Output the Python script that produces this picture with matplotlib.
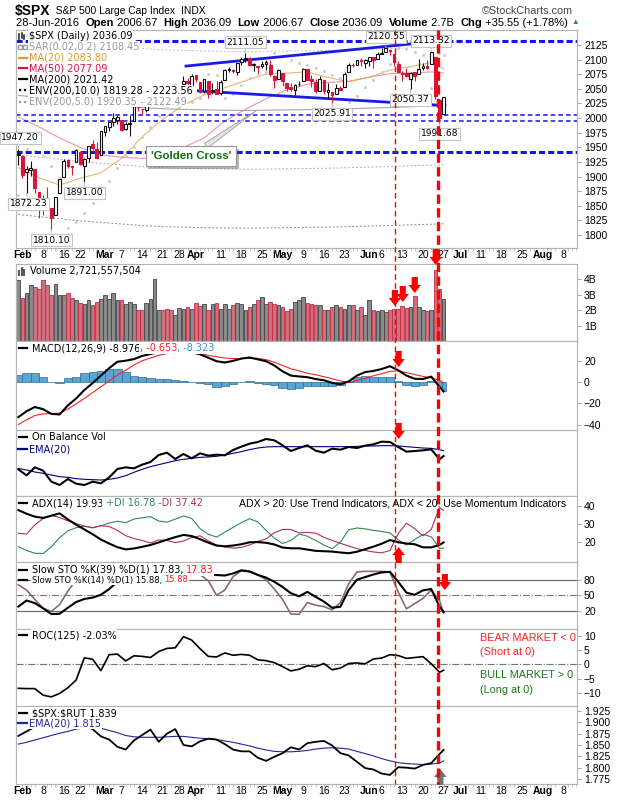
import matplotlib
matplotlib.use('Agg')
import matplotlib.pyplot as plt
import matplotlib.patheffects as pe
import matplotlib.transforms as mtransforms
from matplotlib.patches import Rectangle, Polygon
from matplotlib.lines import Line2D

# ---------------- data ----------------
# trading days Feb 1 2016 .. Jun 28 2016 -> index 0..103
days = list(range(104))

opens = [1936.94, 1935.26, 1907.07, 1911.67, 1913.07, 1873.25, 1848.46, 1857.10, 1847.00, 1833.40,
         1871.44, 1898.80, 1927.57, 1916.74, 1924.44, 1942.38, 1917.56, 1931.87, 1954.95, 1947.13,
         1937.09, 1976.60, 1985.60, 1994.01, 1996.11, 1996.88, 1981.44, 1990.97, 1994.71, 2019.27,
         2015.27, 2014.24, 2026.90, 2041.16, 2047.88, 2048.64, 2048.55, 2032.48, 2037.89, 2035.75,
         2058.27, 2063.77, 2056.62, 2073.19, 2062.50, 2045.56, 2063.01, 2045.54, 2050.23, 2043.72,
         2065.92, 2082.89, 2083.10, 2078.83, 2096.05, 2101.52, 2102.09, 2091.49, 2089.37, 2089.84,
         2092.57, 2090.93, 2071.82, 2067.17, 2077.18, 2060.30, 2052.95, 2047.77, 2057.55, 2062.63,
         2083.29, 2067.17, 2062.50, 2046.53, 2065.04, 2044.38, 2044.21, 2041.88, 2052.23, 2052.65,
         2078.93, 2091.44, 2090.06, 2100.13, 2093.94, 2097.71, 2104.07, 2100.83, 2110.18, 2112.71,
         2115.65, 2109.57, 2091.75, 2076.65, 2077.60, 2066.36, 2078.20, 2075.58, 2085.19, 2089.75,
         2092.80, 2103.81, 2031.45, 2006.67]
highs = [1947.20, 1935.26, 1918.01, 1927.35, 1913.07, 1873.25, 1868.25, 1881.60, 1847.00, 1864.78,
         1895.77, 1930.68, 1930.00, 1918.78, 1946.70, 1942.38, 1932.08, 1951.83, 1962.96, 1958.27,
         1978.35, 1986.51, 1993.69, 2009.13, 2006.12, 1996.88, 1992.69, 2005.08, 2022.37, 2024.57,
         2015.94, 2032.02, 2046.24, 2052.36, 2053.91, 2056.60, 2048.55, 2036.04, 2042.67, 2055.91,
         2072.21, 2067.92, 2075.07, 2074.02, 2062.50, 2067.33, 2063.01, 2060.63, 2062.93, 2065.05,
         2083.18, 2087.84, 2083.22, 2094.66, 2104.05, 2111.05, 2103.78, 2094.32, 2089.37, 2096.87,
         2099.89, 2099.30, 2073.85, 2083.42, 2077.18, 2060.30, 2060.23, 2057.72, 2064.15, 2084.87,
         2083.29, 2073.99, 2066.79, 2071.88, 2065.69, 2060.61, 2044.21, 2058.35, 2055.58, 2079.67,
         2094.73, 2094.30, 2099.06, 2103.48, 2100.97, 2105.26, 2104.07, 2113.36, 2119.22, 2120.55,
         2117.64, 2109.57, 2098.12, 2081.30, 2085.65, 2079.62, 2078.20, 2100.66, 2093.66, 2099.71,
         2113.32, 2103.81, 2031.45, 2036.09]
lows = [1920.03, 1897.29, 1872.23, 1900.52, 1872.65, 1828.46, 1834.94, 1850.32, 1810.10, 1833.40,
        1871.44, 1898.80, 1915.09, 1902.17, 1924.44, 1919.44, 1891.00, 1925.41, 1945.78, 1931.81,
        1937.09, 1968.80, 1977.37, 1986.77, 1989.38, 1977.43, 1979.84, 1969.25, 1994.71, 2012.05,
        2005.23, 2010.04, 2022.16, 2041.16, 2043.14, 2040.57, 2034.86, 2022.49, 2031.96, 2028.31,
        2058.27, 2057.46, 2043.98, 2062.57, 2042.56, 2043.09, 2033.80, 2041.69, 2041.88, 2039.74,
        2065.92, 2078.13, 2076.31, 2073.65, 2091.68, 2096.32, 2088.52, 2081.20, 2077.52, 2085.80,
        2082.31, 2071.62, 2052.28, 2066.11, 2054.89, 2045.55, 2045.77, 2039.45, 2054.31, 2062.63,
        2064.46, 2053.13, 2043.13, 2046.53, 2040.82, 2034.49, 2025.91, 2041.88, 2047.26, 2052.65,
        2078.93, 2087.08, 2090.06, 2088.66, 2085.10, 2088.59, 2085.36, 2100.83, 2110.18, 2112.71,
        2107.73, 2089.96, 2078.46, 2064.10, 2069.80, 2050.37, 2062.84, 2075.58, 2083.02, 2084.36,
        2092.80, 2032.57, 1991.68, 2006.67]
closes = [1939.38, 1903.03, 1912.53, 1915.45, 1880.05, 1853.44, 1852.21, 1851.86, 1829.08, 1864.78,
          1895.58, 1926.82, 1917.83, 1917.78, 1945.50, 1921.27, 1929.80, 1951.70, 1948.05, 1932.23,
          1978.35, 1986.45, 1993.40, 1999.99, 2001.76, 1979.26, 1989.26, 1989.57, 2022.19, 2019.64,
          2015.93, 2027.22, 2040.59, 2049.58, 2051.60, 2049.80, 2036.71, 2035.94, 2037.05, 2055.01,
          2063.95, 2059.74, 2072.78, 2066.13, 2045.17, 2066.66, 2041.91, 2047.60, 2041.99, 2061.72,
          2082.42, 2082.78, 2080.73, 2094.34, 2100.80, 2102.40, 2091.48, 2091.58, 2087.79, 2091.70,
          2095.15, 2075.81, 2065.30, 2081.43, 2063.37, 2051.12, 2050.63, 2057.14, 2058.69, 2084.39,
          2064.46, 2064.11, 2046.61, 2066.66, 2047.21, 2047.63, 2040.04, 2052.32, 2048.04, 2076.06,
          2090.54, 2090.10, 2099.06, 2096.95, 2099.33, 2105.26, 2099.13, 2109.41, 2112.13, 2119.12,
          2115.48, 2096.07, 2079.06, 2075.32, 2071.50, 2077.99, 2071.22, 2083.25, 2088.90, 2085.45,
          2113.32, 2037.41, 2000.54, 2036.09]
volume_b = [3.94, 2.82, 3.14, 3.61, 3.50, 3.40, 3.94, 3.66, 2.97, 3.68,
            2.97, 2.97, 3.14, 2.82, 2.69, 2.50, 2.43, 2.69, 2.32, 2.54,
            2.75, 2.97, 2.75, 3.14, 2.65, 2.65, 2.39, 2.54, 2.43, 2.00,
            2.04, 2.47, 2.72, 4.04, 2.00, 2.00, 2.11, 2.04, 1.68, 2.17,
            2.11, 2.21, 2.11, 2.47, 2.26, 2.43, 2.04, 2.43, 2.50, 2.11,
            2.39, 2.11, 2.32, 2.50, 2.43, 2.00, 2.21, 2.39, 2.69, 2.84,
            2.39, 2.54, 2.43, 2.32, 2.21, 1.98, 2.11, 2.54, 2.69, 2.86,
            2.47, 2.43, 2.32, 2.32, 2.00, 2.04, 2.21, 2.32, 2.21, 2.11,
            2.32, 2.32, 2.04, 2.21, 1.72, 2.65, 2.04, 1.98, 2.00, 1.90,
            2.00, 2.07, 2.07, 2.28, 2.17, 2.24, 2.95, 2.20, 2.04, 1.93,
            2.04, 4.60, 3.40, 2.72]

# overlays, read every 5 sessions
ma_days = list(range(0, 104, 5)) + [103]
ma20 = [1915, 1898, 1885.5, 1897, 1906.5, 1931, 1968, 1998, 2022, 2040, 2052,
        2064, 2075.5, 2077, 2079, 2069.5, 2062, 2070, 2082, 2088, 2095, 2083.80]
ma50 = [2002, 1985, 1966, 1950, 1937, 1933, 1931, 1935, 1950, 1966, 1995,
        2015, 2033, 2048, 2058, 2061, 2063, 2070, 2076, 2077, 2079, 2077.09]
ma200 = [2039, 2035, 2031, 2027, 2024, 2021, 2018, 2016, 2015, 2014, 2013.5,
         2013, 2013.5, 2014, 2014.5, 2015, 2016, 2017, 2018, 2019.5, 2020.5, 2021.42]

# indicators, read every 2 sessions
ind_days = list(range(0, 104, 2)) + [103]
sar = [1868, 1947, 1944, 1935, 1918, 1898, 1812, 1822, 1838, 1855, 1870, 1892, 1915, 1935,
       1950, 1968, 1985, 2003, 2018, 2056, 2023, 2028, 2035, 2075, 2073, 2034, 2042, 2056,
       2068, 2075, 2079, 2111, 2107, 2100, 2094, 2090, 2086, 2081, 2074, 2068, 2027, 2038,
       2053, 2065, 2079, 2093, 2120, 2118, 2113, 2108, 2052, 2111, 2108.45]
macd = [-33, -27.5, -23.5, -25.5, -30, -30.5, -22, -15.5, -7.5, -1, 6, 13, 19, 20, 21.5,
        24.5, 26.3, 28, 29.5, 29.5, 29, 28, 26, 22.8, 19.5, 18.3, 19.8, 22, 23, 21.3, 19.5,
        15.5, 10, 6, 5.2, 4.5, 2.8, 1.6, -0.8, -2.2, 0.5, 6, 9.3, 10.4, 12.2, 14.8, 11, 6,
        3, 2.8, 5, -4.5, -8.976]
macd_signal = [-40, -35.5, -31.5, -30, -29.6, -29.2, -25.5, -20.5, -15.5, -10, -4.5, 1, 6.5,
               11, 16, 20, 22.5, 25, 26.8, 27.8, 28, 27.6, 27, 25, 23.8, 22.5, 22, 22, 22.2,
               22.2, 21, 18.5, 15.5, 12.5, 10.5, 8.2, 6.8, 5, 3, 1, -0.4, 1.5, 3.5, 5.8, 7.8,
               10, 10.5, 8.8, 7, 5.2, 4, 1.5, -0.653]
obv = [8.2, 6.4, 8.8, 7.8, 4.5, 3.5, 5.3, 3.9, 3.5, 4.5, 4.0, 5.8, 8.3, 8.8, 8.5, 9.6, 10.4,
       12.5, 13.2, 11.3, 12.8, 11.5, 13.0, 12.3, 12.6, 12.4, 14.0, 15.0, 15.9, 16.4, 17.3,
       16.9, 15.4, 13.7, 14.6, 15.4, 13.8, 13.2, 14.4, 14.1, 14.9, 14.6, 15.3, 15.7, 16.5,
       16.4, 14.9, 13.5, 13.7, 13.9, 14.2, 11.2, 12.2]
obv_ema = [8.5, 8.0, 7.4, 7.0, 6.5, 6.0, 5.8, 5.4, 5.2, 5.1, 5.0, 5.2, 5.6, 6.3, 7.3, 8.2,
           9.0, 9.6, 10.2, 10.8, 11.2, 11.5, 11.8, 11.9, 12.1, 12.5, 13.0, 13.5, 14.1, 14.6,
           14.9, 15.0, 15.0, 15.0, 15.0, 15.0, 15.0, 15.0, 15.0, 15.0, 15.0, 15.1, 15.2, 15.2,
           15.3, 15.3, 15.2, 15.0, 14.8, 14.6, 14.5, 14.1, 13.8]
adx = [37.6, 35.6, 34, 33.3, 34.5, 35.8, 32.5, 29.6, 27, 24.4, 21.5, 19.3, 17.3, 16.1, 16.6,
       17.5, 18.5, 19.9, 21.4, 22.8, 24, 23.4, 21.7, 19.8, 18.2, 17.8, 18.2, 18.9, 20, 20.1,
       19.7, 18.8, 17.1, 16.7, 16.7, 16, 15.3, 15.1, 14.9, 14.4, 14, 14.8, 16.2, 17.6, 19.2,
       21.2, 20, 19.3, 18.9, 17.2, 17.2, 18.5, 19.93]
plus_di = [17.6, 15.5, 14, 13.8, 17.5, 22.5, 26.2, 28, 28.8, 27.9, 29, 30.5, 31.5, 30.7, 32.7,
           33.4, 34, 31.6, 31, 32.6, 34.4, 33, 27.5, 24.4, 22.8, 25.5, 28.1, 30.7, 32.9, 31.1,
           26.5, 22.2, 19.3, 21, 24.5, 23.3, 21, 18.5, 16.5, 20, 26.8, 27.8, 27.3, 26.5, 25.9,
           25.1, 21.3, 18.5, 21.5, 24.3, 23, 16.7, 16.78]
minus_di = [24.9, 24.5, 29.5, 33, 34.8, 33.5, 31.7, 30.2, 28.8, 28, 29, 28.6, 26.5, 23.6, 22,
            21, 19.6, 21.3, 21, 19.8, 20.7, 22.6, 23.5, 20.8, 18.5, 17.4, 16.8, 17.2, 18.5,
            20.5, 21.8, 25.2, 27, 27, 25.1, 25.4, 25, 22.7, 21, 19.4, 18, 16.5, 15.5, 14.7,
            14.2, 15.5, 24.7, 30.4, 27.5, 23.5, 27, 39, 37.42]
sto_k39 = [28.3, 40, 35, 25, 14, 14.5, 26, 37, 43, 45.5, 51, 62, 76, 86, 92, 95, 97, 98, 95,
           96, 98, 96, 90, 89, 89, 88, 92, 98, 96, 89, 84, 76, 66, 54, 48, 56.5, 47, 38, 26,
           28, 60, 80, 85, 90, 94, 95, 76, 55, 51, 59.5, 62, 28, 17.83]
sto_k14 = [70, 60, 42, 25, 19, 32, 58, 80, 90, 92, 96, 97, 96, 88, 95, 93, 97, 97, 88, 86, 95,
           96, 90, 78, 50, 60, 86, 97, 95, 90, 80, 62, 42, 14, 13.5, 36, 31, 28.3, 22, 36, 72,
           95, 96, 96, 96, 95, 56, 24, 34, 44, 60, 40, 15.88]
roc125 = [-8.4, -8.5, -8.5, -10.8, -11.4, -10.2, -8.2, -5.5, 2.3, 1.8, -2.2, 3.4, 3.6, 1.2,
          3.0, 2.8, 2.4, 4.5, 5.6, 5.8, 9.7, 8.5, 5.5, 2.8, 2.6, 4.0, 3.2, 3.5, 3.2, 1.6, 1.3,
          0.6, -0.8, -2.3, -1.7, -0.5, -0.8, 0.3, -1.9, -1.3, 0.3, 0.5, 0.2, 1.9, 2.2, 3.4,
          3.1, 2.1, 2.4, 2.7, 0.2, -2.8, -2.03]
spx_rut = [1.870, 1.880, 1.890, 1.898, 1.903, 1.905, 1.902, 1.897, 1.892, 1.885, 1.869, 1.862,
           1.846, 1.840, 1.860, 1.872, 1.884, 1.857, 1.875, 1.885, 1.850, 1.847, 1.858, 1.864,
           1.862, 1.852, 1.840, 1.836, 1.836, 1.822, 1.815, 1.824, 1.832, 1.845, 1.840, 1.854,
           1.857, 1.859, 1.849, 1.832, 1.827, 1.813, 1.799, 1.796, 1.787, 1.784, 1.801, 1.800,
           1.798, 1.806, 1.810, 1.830, 1.839]
spx_rut_ema = [1.852, 1.856, 1.861, 1.866, 1.871, 1.876, 1.880, 1.885, 1.888, 1.889, 1.887,
               1.882, 1.877, 1.871, 1.868, 1.867, 1.867, 1.867, 1.868, 1.869, 1.869, 1.867,
               1.865, 1.864, 1.862, 1.859, 1.856, 1.852, 1.848, 1.843, 1.839, 1.836, 1.835,
               1.835, 1.836, 1.838, 1.841, 1.843, 1.844, 1.843, 1.841, 1.836, 1.831, 1.826,
               1.820, 1.815, 1.811, 1.809, 1.808, 1.807, 1.808, 1.810, 1.815]

# hand drawn annotations (session index, price)
levels = [2132, 2005, 1994.5, 1941.5]
trend_upper = ([40.6, 98.2], [2089, 2129])
trend_lower = ([43.6, 103.3], [2046.5, 2021.5])
label_days = [0, 2, 8, 16, 55, 76, 89, 95, 100, 102]
label_kind = ['high', 'low', 'low', 'low', 'high', 'low', 'high', 'low', 'high', 'low']
event_days = [91.2, 101.6]

tick_days = [0, 5, 10, 14, 20, 24, 29, 34, 38, 42, 48, 53, 58, 63, 68, 73, 78, 84, 87, 92,
             97, 102, 106, 111, 116, 121, 126, 131]
tick_labels = ['Feb', '8', '16', '22', 'Mar', '7', '14', '21', '28', 'Apr', '11', '18', '25',
               'May', '9', '16', '23', 'Jun', '6', '13', '20', '27', 'Jul', '11', '18', '25',
               'Aug', '8']

# ---------------- figure ----------------
W, H = 620, 800
X0, X1 = 16, 577
XLIM = (-0.56, 135.3)
ARIAL = 'Liberation Sans'
VERD = 'DejaVu Sans'

fig = plt.figure(figsize=(W / 100, H / 100), dpi=100)
fig.patch.set_facecolor('white')
renderer = fig.canvas.get_renderer()


def panel(top, bottom, ylim, yticks, yticklabels=None):
    ax = fig.add_axes([X0 / W, 1 - bottom / H, (X1 - X0) / W, (bottom - top) / H])
    ax.set_xlim(*XLIM)
    ax.set_ylim(*ylim)
    ax.set_xticks([])
    ax.yaxis.tick_right()
    ax.set_yticks(yticks)
    if yticklabels is not None:
        ax.set_yticklabels(yticklabels)
    ax.tick_params(axis='y', labelsize=7.5, length=3, width=0.6, color='#999999', pad=2,
                   labelfontfamily=ARIAL)
    for s in ax.spines.values():
        s.set_color('#b4b4b4')
        s.set_linewidth(0.8)
    return ax


def rich(x, y, pieces, size=7, family=VERD, bg=True):
    # pieces: (text, colour, weight) or (text, colour, weight, size)
    for p in pieces:
        s, color, weight = p[:3]
        fs = p[3] if len(p) > 3 else size
        t = fig.text(x / W, 1 - y / H, s, color=color, fontsize=fs, family=family,
                     fontweight=weight, va='center', ha='left', zorder=5)
        if bg:
            t.set_bbox(dict(facecolor='white', edgecolor='none', pad=0.4))
        x += t.get_window_extent(renderer=renderer).width


def key(y, color, ls='-', lw=1.6, x0=19, x1=27):
    fig.add_artist(Line2D([x0 / W, x1 / W], [1 - y / H, 1 - y / H], transform=fig.transFigure,
                          color=color, ls=ls, lw=lw, zorder=6))


def xlabels(ax):
    ax.set_xticks(tick_days)
    ax.set_xticklabels(tick_labels)
    ax.tick_params(axis='x', length=0, labelsize=7.5, pad=1.5, labelfontfamily=ARIAL)
    ax.set_xticks(list(range(0, 136)), minor=True)
    ax.tick_params(axis='x', which='minor', length=2, width=0.5, color='#b0b0b0')
    off = mtransforms.ScaledTranslation(4 / 100, 0, fig.dpi_scale_trans)
    for lbl, name in zip(ax.get_xticklabels(), tick_labels):
        if name.isalpha():
            lbl.set_fontweight('bold')
        lbl.set_transform(lbl.get_transform() + off)


# header
rich(15.0, 10.5, [('$SPX', 'black', 'bold', 10), ('  S&P 500 Large Cap Index  ', 'black', 'normal', 7.4),
                  ('INDX', 'black', 'normal', 7.4)], family=ARIAL, bg=False)
fig.text(573 / W, 1 - 10.5 / H, '\u00a9StockCharts.com', fontsize=7.8, family=ARIAL,
         color='#444444', va='center', ha='right')
rich(15.8, 23, [('28-Jun-2016  ', 'black', 'normal'), ('Open', 'black', 'bold'),
                (' 2006.67  ', 'black', 'normal'), ('High', 'black', 'bold'),
                (' 2036.09  ', 'black', 'normal'), ('Low', 'black', 'bold'),
                (' 2006.67  ', 'black', 'normal'), ('Close', 'black', 'bold'),
                (' 2036.09  ', 'black', 'normal'), ('Volume', 'black', 'bold'),
                (' 2.7B  ', 'black', 'normal'), ('Chg', 'black', 'bold'),
                (' +35.55 (+1.78%) ', 'black', 'normal'), ('\u25b2', '#1f9a3a', 'normal', 5.5)],
     size=8.0, family=ARIAL, bg=False)

# ---------------- main price panel ----------------
ax = panel(30, 248, (1777.8, 2150.7), list(range(1800, 2126, 25)))
xlabels(ax)

for lv, lw in zip(levels, [2.2, 1.1, 1.1, 2.2]):
    ax.axhline(lv, color='#1414f0', lw=lw, ls=(0, (3, 2)) if lw < 2 else (0, (2, 1)), zorder=2)

env10_lo = [m * 0.90 for m in ma200]
env5_lo = [m * 0.95 for m in ma200]
env5_hi = [m * 1.05 for m in ma200]
ax.plot(ma_days, env10_lo, color='#888888', lw=0.7, ls=(0, (2, 2)), zorder=1)
ax.plot(ma_days, env5_lo, color='#b0b0b0', lw=0.7, ls=(0, (2, 2)), zorder=1)
ax.plot(ma_days, env5_hi, color='#c0c0c0', lw=0.7, ls=(0, (2, 2)), zorder=1)
ax.plot(ma_days, ma200, color='#a8a8a8', lw=0.8, zorder=1)
ax.plot(ma_days, ma50, color='#e46a82', lw=0.8, alpha=0.7, zorder=1)
ax.plot(ma_days, ma20, color='#e6a546', lw=0.8, alpha=0.8, zorder=1)
ax.plot(ind_days, sar, ls='none', marker='s', ms=1.0, color='#cccccc', zorder=1)

ax.plot(*trend_upper, color='#1a1ae6', lw=2.0, zorder=3)
ax.plot(*trend_lower, color='#1a1ae6', lw=2.0, zorder=3)

for i in days:
    prev = closes[i - 1] if i > 0 else opens[i]
    col = '#111111' if closes[i] >= prev else '#dc143c'
    ax.vlines(i, lows[i], highs[i], color=col, lw=0.8, zorder=4)
    lo, hi = min(opens[i], closes[i]), max(opens[i], closes[i])
    fc = 'white' if closes[i] > opens[i] else col
    ax.add_patch(Rectangle((i - 0.33, lo), 0.66, max(hi - lo, 0.6), facecolor=fc,
                           edgecolor=col, lw=0.8, zorder=5))

for d, kind in zip(label_days, label_kind):
    val = highs[d] if kind == 'high' else lows[d]
    dy = 11 if kind == 'high' else -11
    ax.annotate(f'{val:.2f}', xy=(d, val), xytext=(2 if d < 5 else 0, dy),
                textcoords='offset pixels', ha='center', va='center', fontsize=6.6,
                family=VERD, annotation_clip=False, zorder=7,
                bbox=dict(boxstyle='square,pad=0.15', fc='white', ec='#c4c4c4', lw=0.8),
                arrowprops=dict(arrowstyle='-', color='#b0b0b0', lw=0.6, shrinkA=0, shrinkB=0))

gc = ax.annotate("'Golden Cross'", xy=(57.5, 2012), xytext=(41.8, 1935), textcoords='data',
                 ha='center', va='center', fontsize=8.2, fontweight='bold', color='#0a6e0a',
                 family=ARIAL, zorder=8,
                 bbox=dict(boxstyle='square,pad=0.45', fc='white', ec='#999999', lw=0.8),
                 arrowprops=dict(arrowstyle='wedge,tail_width=0.5,shrink_factor=0.5',
                                 fc='#e4e4e4', ec='#9a9a9a', lw=0.6, shrinkA=0, shrinkB=0))
gc.get_bbox_patch().set_path_effects([pe.SimplePatchShadow(offset=(2, -2), alpha=0.4), pe.Normal()])

# main legend
rich(29, 35.7, [('$SPX (Daily) 2036.09', 'black', 'normal')])
for k, (h0, h1) in enumerate([(3, 9), (2, 7), (4, 8)]):
    fig.add_artist(Line2D([(19.5 + k * 2.5) / W] * 2, [1 - (31 + h0) / H, 1 - (31 + h1) / H],
                          transform=fig.transFigure, color='#333333', lw=1.2, zorder=6))
rich(29, 46.7, [('SAR(0.02,0.2) 2108.45', '#999999', 'normal')])
fig.add_artist(Line2D([20 / W, 25 / W], [1 - 46.7 / H] * 2, transform=fig.transFigure, ls='none',
                      marker='s', ms=2.5, color='#999999', mfc='white', zorder=6))
rich(29, 57.7, [('MA(20) 2083.80', '#e09a2a', 'normal')])
key(57.7, '#e09a2a')
rich(29, 68.3, [('MA(50) 2077.09', '#e0103c', 'normal')])
key(68.3, '#e0103c')
rich(29, 79.3, [('MA(200) 2021.42', 'black', 'normal')])
key(79.3, 'black')
rich(29, 90.3, [('ENV(200,10.0) 1819.28 - 2223.56', 'black', 'normal')])
key(90.3, 'black', ls=(0, (1, 1.2)))
rich(29, 101.7, [('ENV(200,5.0) 1920.35 - 2122.49', '#999999', 'normal')])
key(101.7, '#999999', ls=(0, (1, 1.2)))

# ---------------- volume ----------------
axv = panel(264, 341, (0, 5.0), [1, 2, 3, 4], ['1B', '2B', '3B', '4B'])
vfill, vedge = [], []
for i in days:
    prev = closes[i - 1] if i > 0 else opens[i]
    up = closes[i] >= prev
    vfill.append('#8a8a8a' if up else '#d26f7c')
    vedge.append('#444444' if up else '#c42a44')
axv.bar(days, volume_b, width=0.9, color=vfill, edgecolor=vedge, lw=0.6)
rich(30, 271, [('Volume 2,721,557,504', 'black', 'normal')])
for k, h in enumerate([4, 7, 5]):
    fig.add_artist(Line2D([(19 + k * 2.5) / W] * 2, [1 - 275 / H, 1 - (275 - h) / H],
                          transform=fig.transFigure, color='#555555', lw=1.4, zorder=6))

# ---------------- MACD ----------------
axm = panel(341, 430, (-45.1, 38.5), [-40, -20, 0, 20])
hist = [m - s for m, s in zip(macd, macd_signal)]
widths = [2.0] * (len(ind_days) - 2) + [1.0, 1.0]
axm.bar(ind_days, hist, width=widths, color='#5aa5d2', edgecolor='#2d6f96', lw=0.5, zorder=1)
axm.plot(ind_days, macd_signal, color='#ff2020', lw=0.8, zorder=2)
axm.plot(ind_days, macd, color='black', lw=1.5, zorder=3)
rich(31.6, 348, [('MACD(12,26,9) -8.976', 'black', 'normal'), (', -0.653', '#ff1a1a', 'normal'),
                 (', -8.323', '#3399cc', 'normal')])
key(348, 'black')

# ---------------- OBV ----------------
axo = panel(430, 496, (0.2, 20), [])
axo.plot(ind_days, obv_ema, color='#000080', lw=0.8)
axo.plot(ind_days, obv, color='black', lw=1.5)
rich(31.6, 437, [('On Balance Vol', 'black', 'normal')])
key(437, 'black')
rich(29, 449, [('EMA(20)', '#000080', 'normal')], bg=False)
key(449, '#000080', x0=18, x1=27)

# ---------------- ADX ----------------
axa = panel(496, 562, (9.2, 45.3), [20, 30, 40])
axa.plot(ind_days, plus_di, color='#2e8b57', lw=0.8)
axa.plot(ind_days, minus_di, color='#b03060', lw=0.8)
axa.plot(ind_days, adx, color='black', lw=1.5)
rich(31.6, 503, [('ADX(14) 19.93', 'black', 'normal'), (' +DI 16.78', '#2e8b57', 'normal'),
                 (' -DI 37.42', '#b03060', 'normal')])
fig.text(239 / W, 1 - 503 / H, 'ADX > 20: Use Trend Indicators, ADX < 20: Use Momentum Indicators',
         fontsize=7.6, family=ARIAL, va='center', zorder=5)
key(503, 'black')

# ---------------- Slow stochastics ----------------
axs = panel(562, 629, (-14.8, 114), [20, 50, 80])
axs.axhline(80, color='#666666', lw=0.8)
axs.axhline(20, color='#666666', lw=0.8)
axs.axhline(50, color='#777777', lw=0.8, ls='-.')
axs.plot(ind_days, sto_k14, color='#8b6b6b', lw=1.2)
axs.plot(ind_days, sto_k39, color='black', lw=1.5)
rich(31.6, 570, [('Slow STO %K(39) %D(1) 17.83, ', 'black', 'normal'), ('17.83', '#ff1a1a', 'normal')])
rich(31.6, 580, [('Slow STO %K(14) %D(1) 15.88, ', 'black', 'normal'), ('15.88', '#ff1a1a', 'normal')], size=6.0)
key(570, 'black')
key(580, 'black')

# ---------------- ROC ----------------
axr = panel(629, 706, (-14.6, 12.4), [-10, -5, 0, 5, 10])
axr.axhline(0, color='#777777', lw=0.8, ls='-.')
axr.plot(ind_days, roc125, color='black', lw=1.2)
rich(31.6, 635, [('ROC(125) -2.03%', 'black', 'normal')])
key(635, 'black')
for y, s, c in [(638, 'BEAR MARKET < 0', '#ff2020'), (652, '(Short at 0)', '#ff2020'),
                (675, 'BULL MARKET > 0', '#1a7a1a'), (690, '(Long at 0)', '#1a7a1a')]:
    fig.text(480 / W, 1 - y / H, s, color=c, fontsize=7.8, family=ARIAL, va='center', zorder=5)

# ---------------- $SPX:$RUT ----------------
axq = panel(706, 784, (1.764, 1.936), [1.775, 1.8, 1.825, 1.85, 1.875, 1.9, 1.925],
            ['1.775', '1.800', '1.825', '1.850', '1.875', '1.900', '1.925'])
xlabels(axq)
axq.plot(ind_days, spx_rut_ema, color='#2424a0', lw=0.8)
axq.plot(ind_days, spx_rut, color='black', lw=1.3)
rich(31.6, 713, [(r'\$SPX:\$RUT 1.839', 'black', 'normal')])
key(713, 'black')
rich(29, 723, [('EMA(20) 1.815', '#2424a0', 'normal')])
key(723, '#2424a0', x0=18, x1=27)

# ---------------- event lines and arrows (overlay in pixel rows) ----------------
ov = fig.add_axes([X0 / W, 0, (X1 - X0) / W, 1], zorder=20)
ov.set_xlim(*XLIM)
ov.set_ylim(H, 0)
ov.axis('off')
ov.patch.set_alpha(0)
ov.plot([event_days[0]] * 2, [30, 784], color='#ff0000', lw=1.0, dashes=(4, 2.5))
ov.plot([event_days[1]] * 2, [30, 784], color='#ff0000', lw=2.4, dashes=(2.8, 1.3))


def arrow(c, y, up=False, color='#ff0000'):
    hw, sw, sh, hh = 1.5, 0.75, 8, 8
    if not up:
        pts = [(c - sw, y), (c + sw, y), (c + sw, y + sh), (c + hw, y + sh), (c, y + sh + hh),
               (c - hw, y + sh), (c - sw, y + sh)]
    else:
        pts = [(c, y), (c + hw, y + hh), (c + sw, y + hh), (c + sw, y + hh + sh),
               (c - sw, y + hh + sh), (c - sw, y + hh), (c - hw, y + hh)]
    ov.add_patch(Polygon(pts, closed=True, facecolor=color, edgecolor='none'))


for c, y in [(91.2, 290), (93.1, 286), (96.0, 277), (101.1, 249), (92.1, 351), (92.1, 423),
             (103.3, 574)]:
    arrow(c, y)
arrow(92.1, 547, up=True)
arrow(102.2, 769, up=True, color='#707070')

fig.savefig('out.png', dpi=100, facecolor='white')
